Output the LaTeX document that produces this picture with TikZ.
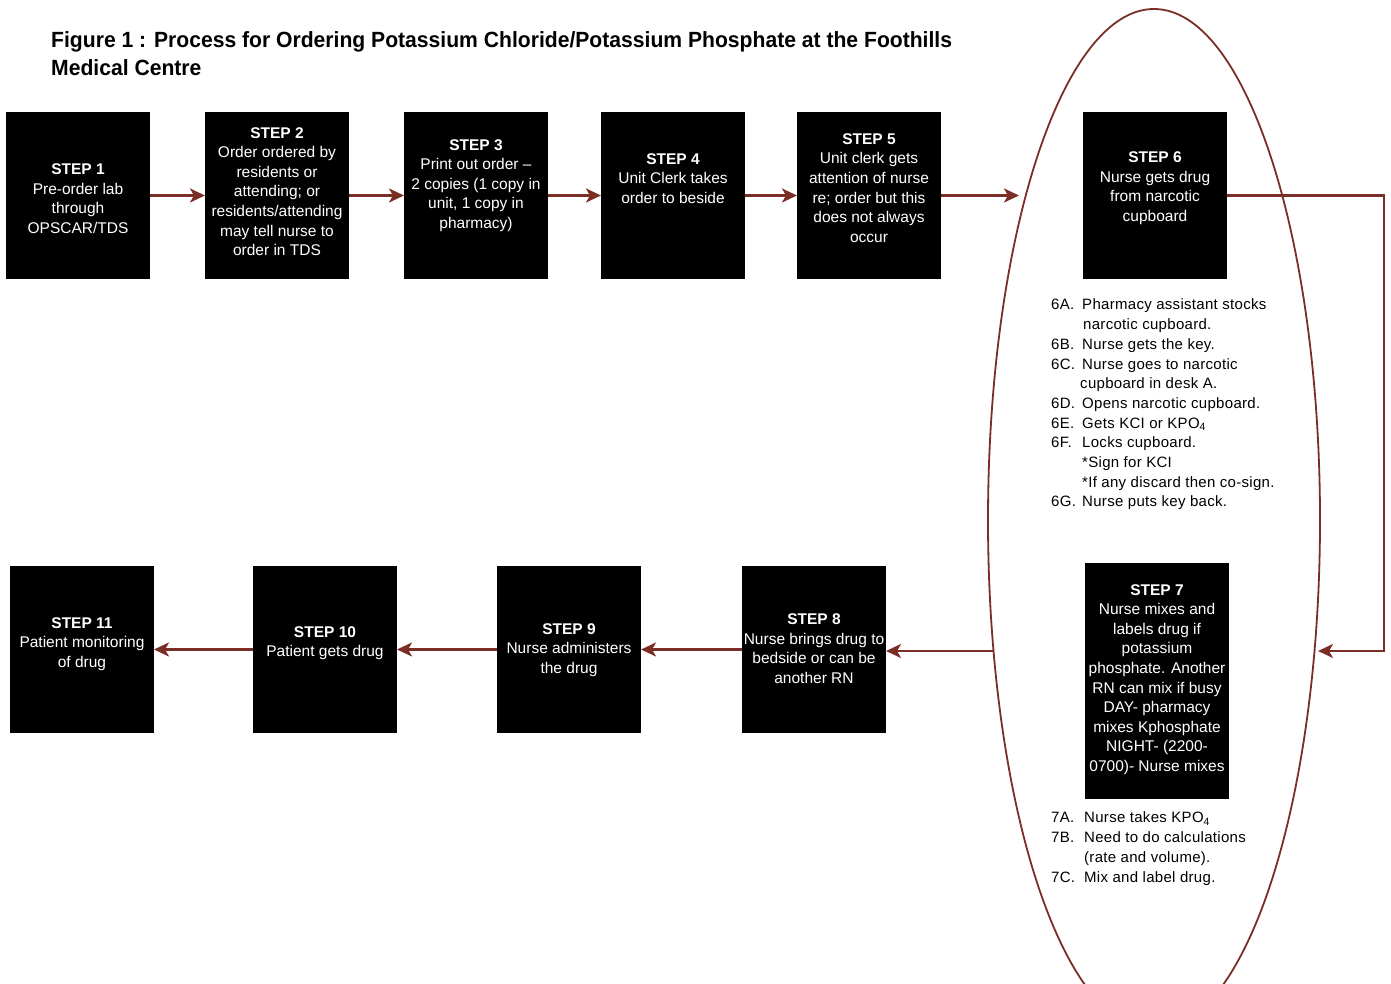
\documentclass[tikz,border=0pt]{standalone}
\usepackage{fontspec}
\setmainfont{Liberation Sans}
\newfontfamily\titlefont{Liberation Sans}[FakeStretch=0.96]
\newfontfamily\listfont{Liberation Sans}[LetterSpace=2]
\usepackage{tikz}
\usetikzlibrary{arrows.meta,positioning,shapes.geometric}

\definecolor{flowred}{RGB}{122,46,38}
% text of a step box, lifted by #1
\newcommand{\steptxt}[2]{\raisebox{#1pt}[0pt][0pt]{\begin{tabular}{@{}c@{}}#2\end{tabular}}}

\begin{document}
\begin{tikzpicture}[x=1pt, y=-1pt,
    stepbox/.style={rectangle, fill=black, text=white, inner sep=0pt, outer sep=0pt,
    minimum width=144pt, minimum height=167pt, font=\fontsize{15.5}{19.6}\selectfont},
    flow/.style={draw=flowred, line width=2.4pt, -{Stealth[length=15pt, width=14pt, inset=4pt]}},
    substeps/.style={anchor=north west, inner sep=0pt, font=\listfont\fontsize{15}{19.7}\selectfont},
    node distance=54pt]
    \useasboundingbox (0,0) rectangle (1391,984);
    \clip (0,0) rectangle (1391,984);

    \node (title) [anchor=north west, align=left, inner sep=0pt,
    font=\titlefont\bfseries\fontsize{22}{28}\selectfont] at (51,31)
    {Figure 1 : Process for Ordering Potassium Chloride/Potassium Phosphate at the Foothills\\Medical Centre};

    \node (oval) [draw=flowred, line width=1.8pt, ellipse, minimum width=332pt, minimum height=1022pt] at (1154,520) {};

    % top row
    \node (step1) [stepbox] at (78,195.5) {\steptxt{-8}{\textbf{STEP 1}\\ Pre-order lab\\ through\\ OPSCAR/TDS}};
    \node (step2) [stepbox, right=55pt of step1] {\steptxt{-1}{\textbf{STEP 2}\\ Order ordered by\\ residents or\\ attending; or\\ residents/attending\\ may tell nurse to\\ order in TDS}};
    \node (step3) [stepbox, right=55pt of step2] {\steptxt{6.5}{\textbf{STEP 3}\\ Print out order --\\ 2 copies (1 copy in\\ unit, 1 copy in\\ pharmacy)}};
    \node (step4) [stepbox, right=53pt of step3] {\steptxt{12}{\textbf{STEP 4}\\ Unit Clerk takes\\ order to beside}};
    \node (step5) [stepbox, right=52pt of step4] {\steptxt{2.5}{\textbf{STEP 5}\\ Unit clerk gets\\ attention of nurse\\ re; order but this\\ does not always\\ occur}};
    \node (step6) [stepbox] at (1155,195.5) {\steptxt{4}{\textbf{STEP 6}\\ Nurse gets drug\\ from narcotic\\ cupboard}};

    \node (list6) [substeps] at (1051,296) {\begin{tabular}{@{}p{31pt}@{}l@{}}
        6A. & Pharmacy assistant stocks\\
            & \hspace{1pt}narcotic cupboard.\\
        6B. & Nurse gets the key.\\
        6C. & Nurse goes to narcotic\\
            & \hspace{-2pt}cupboard in desk A.\\
        6D. & Opens narcotic cupboard.\\
        6E. & Gets KCI or KPO\textsubscript{4}\\
        6F. & Locks cupboard.\\
            & *Sign for KCI\\
            & *If any discard then co-sign.\\
        6G. & Nurse puts key back.
    \end{tabular}};

    % bottom row
    \node (step7) [stepbox, minimum height=236pt] at (1157,681) {\steptxt{-2}{\textbf{STEP 7}\\ Nurse mixes and\\ labels drug if\\ potassium\\ phosphate. Another\\ RN can mix if busy\\ DAY- pharmacy\\ mixes Kphosphate\\ NIGHT- (2200-\\ 0700)- Nurse mixes}};

    \node (list7) [substeps] at (1051,809) {\begin{tabular}{@{}p{33pt}@{}l@{}}
        7A. & Nurse takes KPO\textsubscript{4}\\
        7B. & Need to do calculations\\
            & (rate and volume).\\
        7C. & Mix and label drug.
    \end{tabular}};

    \node (step8) [stepbox] at (814,649.5) {\steptxt{-4}{\textbf{STEP 8}\\ Nurse brings drug to\\ bedside or can be\\ another RN}};
    \node (step9) [stepbox, left=101pt of step8] {\steptxt{-4}{\textbf{STEP 9}\\ Nurse administers\\ the drug}};
    \node (step10) [stepbox, left=100pt of step9] {\steptxt{3}{\textbf{STEP 10}\\ Patient gets drug}};
    \node (step11) [stepbox, left=99pt of step10] {\steptxt{2}{\textbf{STEP 11}\\ Patient monitoring\\ of drug}};

    \coordinate (in6) at (1019,195.5);
    \coordinate (turn6) at (1384,195.5);
    \coordinate (in7) at (1318,651);
    \coordinate (out7) at (994,651);

    \draw[flow] (step1) -- (step2);
    \draw[flow] (step2) -- (step3);
    \draw[flow] (step3) -- (step4);
    \draw[flow] (step4) -- (step5);
    \draw[flow] (step5) -- (in6);
    \draw[flow] (step6.east) -- (turn6) |- (in7);
    \draw[flow] (out7) -- (step8.east |- out7);
    \draw[flow] (step8) -- (step9);
    \draw[flow] (step9) -- (step10);
    \draw[flow] (step10) -- (step11);
\end{tikzpicture}
\end{document}
